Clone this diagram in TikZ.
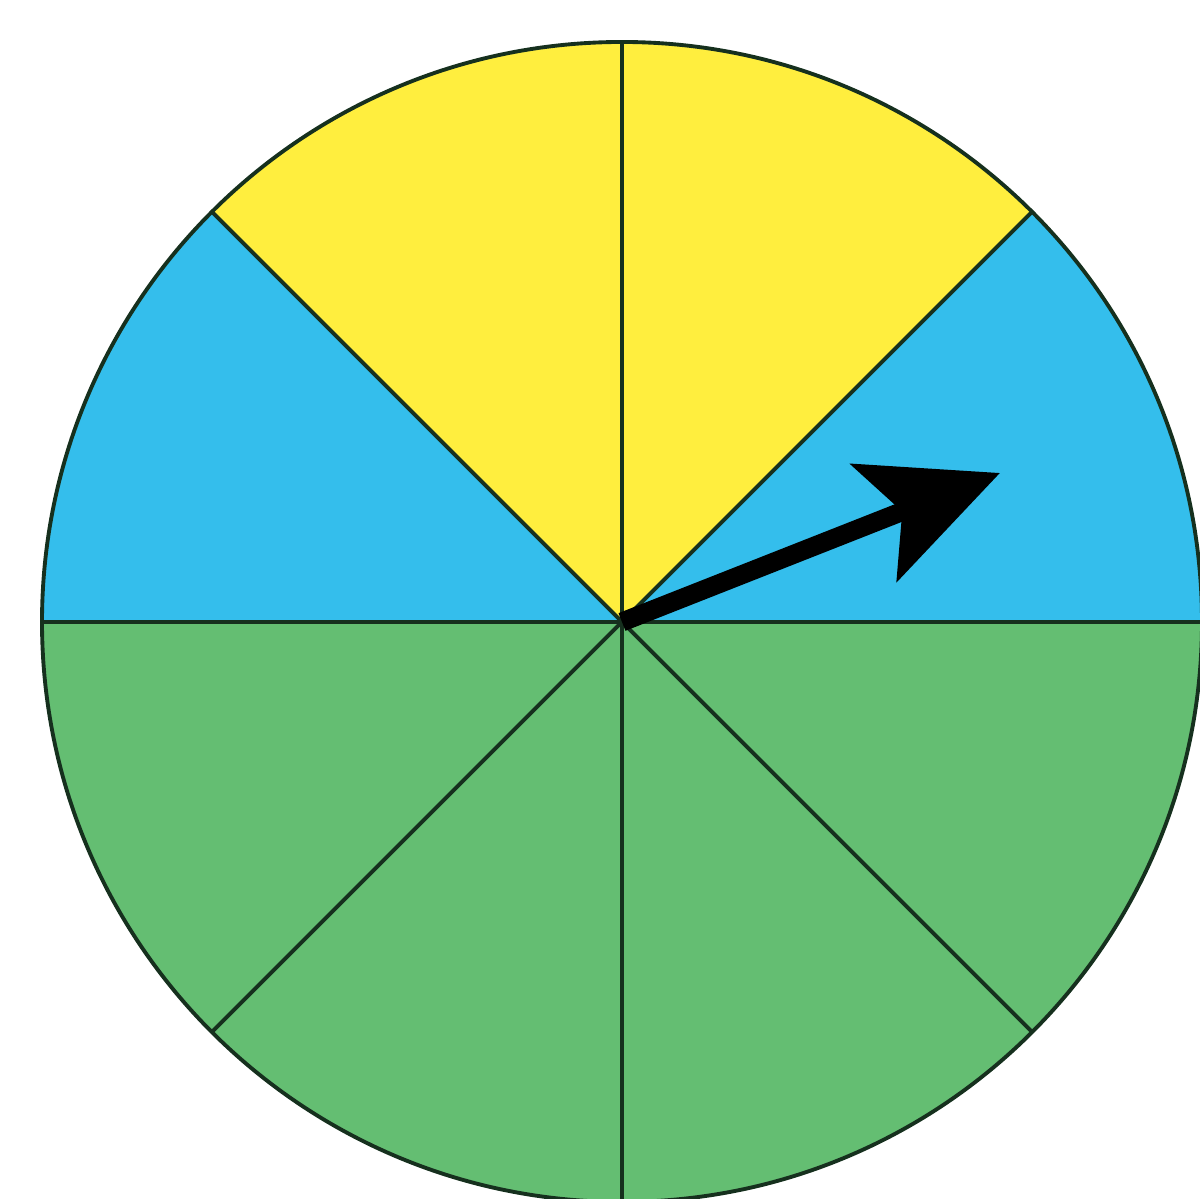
\documentclass[tikz,border=0pt]{standalone}
\usetikzlibrary{arrows.meta}
\definecolor{spinyellow}{RGB}{255,238,62}
\definecolor{spinblue}{RGB}{52,190,236}
\definecolor{spingreen}{RGB}{100,190,114}
\definecolor{spinline}{RGB}{22,48,30}
\tikzset{
  divider/.style={draw=spinline,line width=1.1pt},
  pointer/.style={line width=5.4pt,-{Stealth[length=1.35cm,width=1.25cm,inset=0.3cm]}}
}
\begin{document}
\begin{tikzpicture}
\useasboundingbox (0,0) rectangle (12,11.99);
\coordinate (c) at (6.22,5.77);
\coordinate (tip) at (10.0,7.26);

\foreach \a/\col in {0/spinblue,45/spinyellow,90/spinyellow,135/spinblue,
                     180/spingreen,225/spingreen,270/spingreen,315/spingreen}
  \fill[\col] (c) -- ++(\a:5.8) arc[start angle=\a,end angle=\a+45,radius=5.8] -- cycle;

\foreach \a in {0,45,...,315}
  \draw[divider] (c) -- ++(\a:5.8);
\draw[divider] (c) circle (5.8);

\draw[pointer] (c) -- (tip);
\end{tikzpicture}
\end{document}
